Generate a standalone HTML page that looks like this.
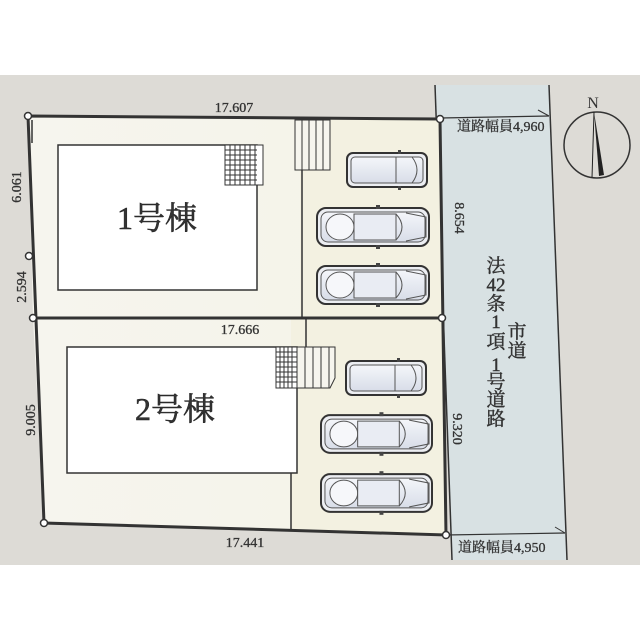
<!DOCTYPE html>
<html><head><meta charset="utf-8"><style>
html,body{margin:0;padding:0;background:#fff}
svg{display:block}
text{font-family:"Liberation Serif","Noto Serif CJK SC",serif;fill:#333}
</style></head><body>
<svg width="640" height="640" viewBox="0 0 640 640" xmlns="http://www.w3.org/2000/svg">
<defs>
<linearGradient id="lot" x1="0" y1="0" x2="1" y2="0"><stop offset="0" stop-color="#f6f5ee"/><stop offset="1" stop-color="#f4f3e8"/></linearGradient>
<linearGradient id="glass" x1="0" y1="0" x2="0" y2="1"><stop offset="0" stop-color="#f4f6fa"/><stop offset="1" stop-color="#d8dde8"/></linearGradient>
<symbol id="sedan" viewBox="0 0 114 44">
<rect x="1" y="3" width="112" height="38" rx="9" fill="#eceef2" stroke="#333" stroke-width="2"/>
<rect x="5" y="7" width="104" height="30" rx="7" fill="url(#glass)" stroke="#555" stroke-width="1"/>
<ellipse cx="24" cy="22" rx="14" ry="13" fill="#f6f7fa" stroke="#555"/>
<rect x="38" y="9" width="42" height="26" fill="#e9ecf3" stroke="#555"/>
<path d="M80 9 Q92 22 80 35" fill="none" stroke="#555"/>
<path d="M90 8 L110 12 L110 32 L90 36" fill="none" stroke="#555"/>
<rect x="60" y="0" width="4" height="4" fill="#444"/><rect x="60" y="40" width="4" height="4" fill="#444"/>
</symbol>
<symbol id="van" viewBox="0 0 82 40">
<rect x="1" y="3" width="80" height="34" rx="6" fill="#eceef2" stroke="#333" stroke-width="2"/>
<rect x="5" y="7" width="72" height="26" rx="4" fill="url(#glass)" stroke="#555"/>
<line x1="50" y1="7" x2="50" y2="33" stroke="#555"/>
<path d="M66 7 Q76 20 66 33" fill="none" stroke="#555"/>
<rect x="52" y="0" width="3" height="4" fill="#444"/><rect x="52" y="36" width="3" height="4" fill="#444"/>
</symbol>
</defs>
<rect x="0" y="75" width="640" height="490" fill="#dddbd6"/>
<!-- road -->
<polygon points="435,85 549,85 567,560 452,560" fill="#d8e1e3"/>
<line x1="435" y1="85" x2="452" y2="560" stroke="#333" stroke-width="1.5"/>
<line x1="549" y1="85" x2="567" y2="560" stroke="#333" stroke-width="1.5"/>
<line x1="440" y1="118" x2="549" y2="116" stroke="#333" stroke-width="1.2"/>
<line x1="538" y1="110" x2="549" y2="116" stroke="#333"/>
<line x1="446" y1="535" x2="565" y2="533" stroke="#333" stroke-width="1.2"/>
<line x1="555" y1="527" x2="565" y2="533" stroke="#333"/>
<!-- lots -->
<polygon points="28,116 440,119 442,318 33,318" fill="url(#lot)"/>
<polygon points="33,318 442,318 446,535 44,523" fill="url(#lot)"/>
<polygon points="300,120 440,119 442,318 300,318" fill="#f3f1e1"/>
<polygon points="291,318 442,318 446,535 291,529" fill="#f3f1e1"/>
<polyline points="28,116 440,119 446,535 44,523 28,116" fill="none" stroke="#333" stroke-width="3"/>
<line x1="33" y1="318" x2="442" y2="318" stroke="#333" stroke-width="3"/>
<line x1="32" y1="120" x2="32" y2="143" stroke="#333" stroke-width="1.5"/>
<line x1="302" y1="170" x2="302" y2="318" stroke="#333" stroke-width="1.5"/>
<line x1="291" y1="472" x2="291" y2="529" stroke="#333" stroke-width="1.5"/>
<line x1="306" y1="318" x2="306" y2="347" stroke="#333" stroke-width="1.5"/>
<!-- houses -->
<rect x="58" y="145" width="199" height="145" fill="#fff" stroke="#333" stroke-width="1.5"/>
<g stroke="#333" stroke-width="1" fill="#fff">
<rect x="225" y="145" width="38" height="40"/>
<path d="M230 145V185M235 145V185M240 145V185M245 145V185M250 145V185M255 145V185M225 150H257M225 155H257M225 160H257M225 165H257M225 170H257M225 175H257M225 180H257"/>
<rect x="295" y="120" width="35" height="50" fill="#f6f5ee"/>
<path d="M302 120V170M309 120V170M316 120V170M323 120V170"/>
</g>
<rect x="67" y="347" width="230" height="126" fill="#fff" stroke="#333" stroke-width="1.5"/>
<g stroke="#333" stroke-width="1" fill="#fff">
<rect x="276" y="347" width="21" height="41"/>
<path d="M280 347V388M284 347V388M288 347V388M292 347V388M276 352H297M276 357H297M276 362H297M276 367H297M276 372H297M276 377H297M276 382H297"/>
<path d="M297 347H335V378L330 388H297Z" fill="#f6f5ee"/>
<path d="M305 347V388M313 347V388M321 347V388M329 347V388"/>
</g>
<!-- cars -->
<use href="#van" x="346" y="150" width="82" height="40"/>
<use href="#sedan" x="316" y="205" width="114" height="44"/>
<use href="#sedan" x="316" y="263" width="114" height="44"/>
<use href="#van" x="345" y="358" width="82" height="40"/>
<use href="#sedan" x="320" y="412" width="113" height="44"/>
<use href="#sedan" x="320" y="471" width="113" height="44"/>
<!-- corner circles -->
<g fill="#fff" stroke="#333" stroke-width="1.5">
<circle cx="28" cy="116" r="3.5"/><circle cx="440" cy="119" r="3.5"/><circle cx="29" cy="256" r="3.5"/>
<circle cx="33" cy="318" r="3.5"/><circle cx="442" cy="318" r="3.5"/><circle cx="44" cy="523" r="3.5"/><circle cx="446" cy="535" r="3.5"/>
</g>
<!-- labels -->
<g font-size="14" stroke="#333" stroke-width="0.3">
<text x="234" y="112" text-anchor="middle">17.607</text>
<text x="240" y="334" text-anchor="middle">17.666</text>
<text x="245" y="547" text-anchor="middle">17.441</text>
<text text-anchor="middle" transform="translate(21,187) rotate(-90)">6.061</text>
<text text-anchor="middle" transform="translate(26,287) rotate(-90)">2.594</text>
<text text-anchor="middle" transform="translate(35,420) rotate(-90)">9.005</text>
<text text-anchor="middle" transform="translate(455,218) rotate(90)">8.654</text>
<text text-anchor="middle" transform="translate(453,429) rotate(90)">9.320</text>
<text x="457" y="131">道路幅員4,960</text>
<text x="458" y="552">道路幅員4,950</text>
</g>
<text x="157" y="229" font-size="32" text-anchor="middle" fill="#222" stroke="#222" stroke-width="0.5">1号棟</text>
<text x="175" y="420" font-size="32" text-anchor="middle" fill="#222" stroke="#222" stroke-width="0.5">2号棟</text>
<g font-size="19" text-anchor="middle" stroke="#333" stroke-width="0.4">
<text x="496" y="272">法</text><text x="496" y="291">42</text>
<text x="496" y="310">条</text><text x="496" y="328">1</text><text x="496" y="348">項</text>
<text x="496" y="371">1</text><text x="496" y="388">号</text><text x="496" y="406">道</text><text x="496" y="425">路</text>
<text x="517" y="338">市</text><text x="517" y="357">道</text>
</g>
<!-- compass -->
<circle cx="597" cy="145" r="33" fill="none" stroke="#333" stroke-width="1.5"/>
<polygon points="594,112 604,175 599,176" fill="#222"/>
<line x1="594" y1="112" x2="592" y2="178" stroke="#222" stroke-width="1"/>
<text x="593" y="108" font-size="16" text-anchor="middle" font-family="Liberation Sans" fill="#222">N</text>
</svg>
</body></html>
